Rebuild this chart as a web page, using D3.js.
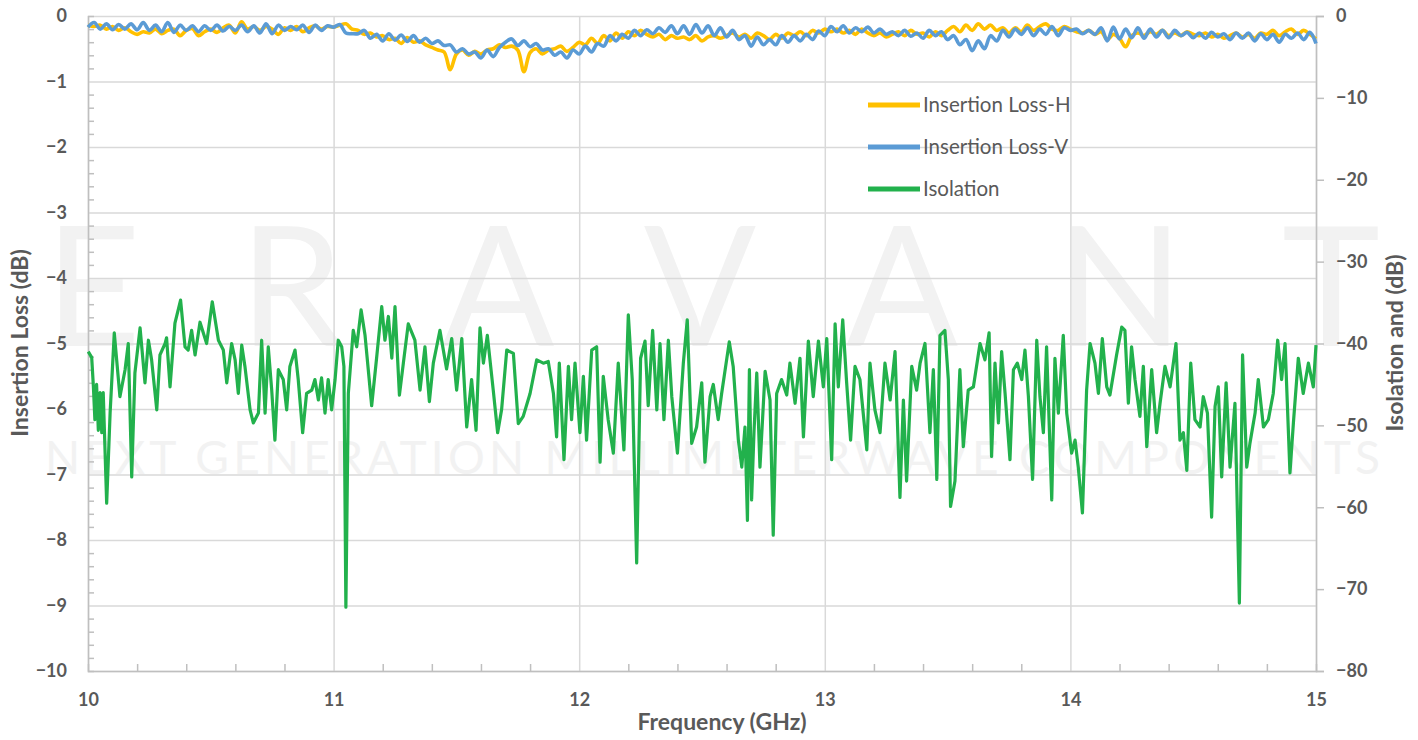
<!DOCTYPE html>
<html>
<head>
<meta charset="utf-8">
<script src="https://cdn.jsdelivr.net/npm/d3@7"></script>
<style>
  body { margin: 0; background: #fff; }
  text { font-family: Lato, "Open Sans", sans-serif; }
</style>
</head>
<body>
<svg id="chart"></svg>
<script>
// ---- data ----
var seriesNames = ["Insertion Loss-H", "Insertion Loss-V", "Isolation"];
var seriesColors = ["#ffc000", "#5b9bd5", "#22b14c"];

// insertion loss sampled every 25 MHz from 10 to 15 GHz
var ilFreq = d3.range(201).map(i => 10 + i * 0.025);

var ilH = [
  -0.14,-0.16,-0.14,-0.20, -0.16,-0.22,-0.18,-0.24, -0.28,-0.24,-0.26,-0.20, -0.27,-0.22,-0.20,-0.30,
  -0.22,-0.19,-0.30,-0.24, -0.20,-0.25,-0.18,-0.14, -0.26,-0.09,-0.20,-0.16, -0.22,-0.16,-0.20,-0.28,
  -0.18,-0.22,-0.16,-0.24, -0.18,-0.15,-0.20,-0.16, -0.17,-0.14,-0.12,-0.20, -0.22,-0.28,-0.26,-0.32,
  -0.30,-0.36,-0.34,-0.42, -0.33,-0.40,-0.38,-0.44, -0.48,-0.52,-0.55,-0.82, -0.58,-0.52,-0.60,-0.54,
  -0.58,-0.52,-0.50,-0.44, -0.48,-0.46,-0.52,-0.85, -0.56,-0.50,-0.58,-0.52, -0.50,-0.46,-0.54,-0.48,
  -0.40,-0.44,-0.34,-0.42, -0.30,-0.38,-0.26,-0.34, -0.24,-0.30,-0.22,-0.28, -0.32,-0.28,-0.36,-0.30,
  -0.34,-0.32,-0.36,-0.30, -0.38,-0.32,-0.30,-0.34, -0.30,-0.26,-0.32,-0.28, -0.34,-0.26,-0.30,-0.36,
  -0.28,-0.34,-0.26,-0.30, -0.24,-0.30,-0.22,-0.26, -0.20,-0.24,-0.20,-0.26, -0.22,-0.28,-0.20,-0.26,
  -0.30,-0.26,-0.32,-0.28, -0.24,-0.30,-0.22,-0.28, -0.26,-0.32,-0.24,-0.30, -0.22,-0.16,-0.24,-0.14,
  -0.22,-0.12,-0.20,-0.14, -0.22,-0.18,-0.26,-0.18, -0.24,-0.14,-0.22,-0.16, -0.12,-0.20,-0.22,-0.16,
  -0.20,-0.24,-0.26,-0.22, -0.28,-0.24,-0.36,-0.28, -0.34,-0.47,-0.30,-0.26, -0.30,-0.24,-0.28,-0.22,
  -0.30,-0.26,-0.30,-0.24, -0.28,-0.30,-0.26,-0.32, -0.28,-0.34,-0.30,-0.26, -0.32,-0.28,-0.34,-0.26,
  -0.28,-0.22,-0.30,-0.24, -0.20,-0.28,-0.22,-0.28, -0.35
];

var ilV = [
  -0.17,-0.10,-0.20,-0.12, -0.21,-0.13,-0.20,-0.12, -0.21,-0.10,-0.22,-0.14, -0.24,-0.10,-0.25,-0.14,
  -0.22,-0.15,-0.24,-0.15, -0.22,-0.14,-0.23,-0.16, -0.22,-0.14,-0.24,-0.15, -0.26,-0.12,-0.27,-0.14,
  -0.22,-0.16,-0.21,-0.14, -0.25,-0.14,-0.22,-0.15, -0.17,-0.13,-0.26,-0.27, -0.27,-0.22,-0.34,-0.28,
  -0.38,-0.27,-0.37,-0.29, -0.39,-0.30,-0.40,-0.34, -0.42,-0.38,-0.45,-0.44, -0.55,-0.50,-0.58,-0.55,
  -0.64,-0.52,-0.62,-0.48, -0.40,-0.35,-0.45,-0.38, -0.47,-0.42,-0.52,-0.50, -0.60,-0.55,-0.64,-0.52,
  -0.58,-0.46,-0.55,-0.42, -0.46,-0.30,-0.38,-0.28, -0.34,-0.22,-0.30,-0.21, -0.27,-0.18,-0.25,-0.15,
  -0.27,-0.15,-0.28,-0.13, -0.26,-0.15,-0.30,-0.18, -0.32,-0.22,-0.36,-0.30, -0.46,-0.32,-0.44,-0.36,
  -0.44,-0.30,-0.40,-0.30, -0.38,-0.28,-0.36,-0.23, -0.30,-0.16,-0.24,-0.15, -0.26,-0.18,-0.24,-0.17,
  -0.26,-0.20,-0.28,-0.24, -0.30,-0.22,-0.31,-0.26, -0.34,-0.22,-0.30,-0.24, -0.36,-0.30,-0.44,-0.36,
  -0.53,-0.38,-0.50,-0.30, -0.38,-0.22,-0.32,-0.20, -0.28,-0.18,-0.30,-0.20, -0.28,-0.16,-0.30,-0.18,
  -0.22,-0.20,-0.27,-0.22, -0.28,-0.18,-0.38,-0.17, -0.35,-0.20,-0.33,-0.18, -0.34,-0.20,-0.32,-0.22,
  -0.33,-0.22,-0.30,-0.25, -0.33,-0.26,-0.34,-0.25, -0.32,-0.27,-0.36,-0.26, -0.34,-0.26,-0.38,-0.27,
  -0.36,-0.28,-0.40,-0.28, -0.34,-0.26,-0.36,-0.25, -0.42
];

// isolation: peaks and troughs (GHz, dB)
var isoFreq = [
  10.001,10.015,10.022,10.028,10.035,10.042,10.049,10.056,10.062,10.076,10.090,10.107,10.130,10.151,10.164,10.178,
  10.191,10.212,10.232,10.246,10.259,10.280,10.293,10.314,10.320,10.334,10.354,10.377,10.395,10.408,10.422,10.436,
  10.456,10.483,10.506,10.531,10.551,10.565,10.585,10.599,10.612,10.626,10.639,10.660,10.673,10.694,10.707,10.721,
  10.734,10.748,10.761,10.775,10.795,10.809,10.822,10.843,10.856,10.874,10.890,10.911,10.924,10.938,10.951,10.965,
  10.978,10.992,11.006,11.019,11.033,11.042,11.050,11.060,11.080,11.094,11.112,11.128,11.155,11.175,11.196,11.209,
  11.223,11.237,11.250,11.268,11.284,11.304,11.331,11.352,11.372,11.390,11.406,11.433,11.460,11.481,11.501,11.522,
  11.542,11.562,11.580,11.596,11.610,11.626,11.650,11.668,11.684,11.705,11.732,11.752,11.772,11.800,11.827,11.854,
  11.874,11.895,11.908,11.919,11.938,11.956,11.969,11.983,12.003,12.017,12.030,12.051,12.071,12.085,12.098,12.118,
  12.139,12.159,12.182,12.200,12.216,12.234,12.250,12.268,12.281,12.299,12.316,12.329,12.345,12.363,12.377,12.400,
  12.424,12.440,12.458,12.478,12.499,12.512,12.533,12.546,12.566,12.580,12.611,12.627,12.648,12.662,12.675,12.685,
  12.693,12.702,12.712,12.723,12.736,12.757,12.777,12.790,12.804,12.824,12.845,12.858,12.879,12.899,12.913,12.933,
  12.953,12.974,12.994,13.008,13.028,13.042,13.055,13.073,13.089,13.105,13.123,13.143,13.171,13.184,13.204,13.225,
  13.245,13.266,13.286,13.306,13.320,13.333,13.354,13.374,13.388,13.408,13.428,13.442,13.456,13.469,13.489,13.503,
  13.512,13.530,13.550,13.564,13.584,13.605,13.632,13.652,13.669,13.679,13.693,13.707,13.720,13.734,13.754,13.768,
  13.784,13.802,13.815,13.829,13.846,13.863,13.876,13.890,13.903,13.924,13.937,13.951,13.971,13.985,14.005,14.019,
  14.032,14.049,14.066,14.080,14.100,14.114,14.130,14.148,14.161,14.188,14.209,14.222,14.236,14.249,14.263,14.283,
  14.297,14.311,14.331,14.351,14.365,14.385,14.406,14.430,14.446,14.460,14.474,14.490,14.507,14.528,14.541,14.558,
  14.575,14.589,14.602,14.616,14.634,14.650,14.670,14.688,14.701,14.718,14.731,14.752,14.765,14.786,14.806,14.826,
  14.844,14.860,14.874,14.894,14.908,14.928,14.948,14.969,14.989,15.000
];

var isoValue = [
  -41.0,-41.7,-45.3,-49.3,-45.0,-50.6,-46.0,-50.9,-46.0,-59.5,-48.5,-38.7,-46.5,-43.2,-40.0,-56.3,
  -43.6,-38.1,-44.8,-39.6,-42.0,-48.1,-41.4,-40.0,-39.3,-45.3,-37.5,-34.7,-40.4,-40.8,-38.4,-41.4,
  -37.4,-40.0,-34.9,-39.6,-40.8,-44.8,-40.0,-42.0,-46.1,-40.2,-42.8,-48.1,-49.7,-48.5,-39.6,-48.5,
  -40.4,-45.7,-51.8,-43.2,-44.4,-48.1,-42.8,-40.8,-44.4,-50.9,-46.1,-45.7,-44.4,-46.9,-44.2,-48.5,
  -44.4,-48.1,-44.4,-39.6,-40.4,-42.8,-72.2,-46.1,-38.4,-40.4,-35.9,-39.0,-47.6,-41.8,-35.5,-39.6,
  -36.7,-41.8,-35.5,-46.3,-42.4,-37.6,-39.6,-45.7,-40.4,-47.1,-42.4,-38.4,-43.1,-39.4,-45.7,-39.4,
  -50.2,-44.4,-50.6,-38.1,-42.4,-39.0,-45.7,-50.9,-48.1,-40.8,-41.2,-49.8,-48.9,-46.1,-42.0,-42.4,
  -42.2,-46.1,-51.4,-42.4,-54.2,-42.8,-49.3,-42.4,-50.9,-44.0,-51.8,-40.8,-40.4,-54.5,-44.0,-49.3,
  -53.4,-42.4,-53.0,-36.5,-44.4,-66.8,-41.8,-39.7,-47.6,-38.4,-48.1,-40.0,-49.3,-39.6,-46.5,-53.4,
  -42.4,-37.1,-52.2,-50.2,-44.8,-54.5,-46.5,-45.0,-49.3,-46.1,-39.8,-42.8,-51.8,-55.1,-50.2,-61.6,
  -43.2,-59.1,-50.6,-43.6,-55.1,-43.4,-46.9,-63.4,-46.1,-44.4,-46.3,-42.4,-47.3,-41.8,-51.4,-39.7,
  -46.5,-39.7,-45.3,-39.4,-54.2,-37.6,-45.3,-37.1,-44.8,-51.8,-42.8,-44.4,-53.0,-42.4,-48.1,-50.9,
  -42.4,-46.9,-41.0,-58.8,-46.9,-56.8,-42.8,-45.7,-42.4,-40.0,-50.9,-43.2,-56.6,-39.0,-38.4,-44.4,
  -59.9,-56.8,-43.2,-52.6,-45.7,-45.3,-40.0,-42.0,-38.7,-53.8,-42.4,-49.7,-41.0,-46.1,-54.2,-43.2,
  -42.4,-44.4,-40.8,-46.5,-56.6,-39.6,-46.5,-50.9,-40.4,-59.1,-41.8,-48.5,-39.0,-48.5,-53.4,-51.8,
  -55.1,-60.7,-45.7,-40.0,-42.4,-46.1,-39.4,-45.3,-46.3,-41.4,-38.0,-38.4,-47.3,-40.4,-44.4,-48.9,
  -42.8,-52.6,-43.2,-50.9,-47.3,-42.8,-45.3,-40.0,-51.8,-50.9,-55.5,-42.4,-49.3,-50.2,-46.5,-48.5,
  -61.2,-47.7,-45.3,-56.3,-44.8,-55.1,-47.3,-71.7,-41.4,-55.1,-52.2,-48.5,-44.4,-50.2,-49.3,-46.1,
  -39.6,-44.4,-40.0,-55.8,-49.7,-41.8,-46.1,-42.4,-45.3,-40.2
];

var xTicks = [10, 11, 12, 13, 14, 15];
var yLeftTicks = [0, -1, -2, -3, -4, -5, -6, -7, -8, -9, -10];
var yRightTicks = [0, -10, -20, -30, -40, -50, -60, -70, -80];

// ---- layout ----
var width = 1418, height = 740;
var plot = { left: 88, right: 1316, top: 16, bottom: 671 };
var textColor = "#595959";
var gridColor = "#d9d9d9";
var axisColor = "#bfbfbf";

var svg = d3.select("#chart")
    .attr("width", width)
    .attr("height", height);

var x = d3.scaleLinear().domain([10, 15]).range([plot.left, plot.right]);
var yL = d3.scaleLinear().domain([-10, 0]).range([plot.bottom, plot.top]);
var yR = d3.scaleLinear().domain([-80, 0]).range([plot.bottom, plot.top]);

// faint watermark behind everything
var wm = svg.append("g").attr("fill", "#f2f2f2");
wm.append("text")
    .attr("x", 45).attr("y", 346)
    .attr("textLength", 1335).attr("lengthAdjust", "spacing")
    .style("font-size", "166px").style("font-weight", 400)
    .text("ERAVANT");
wm.append("text")
    .attr("x", 45).attr("y", 474)
    .attr("textLength", 1335).attr("lengthAdjust", "spacing")
    .style("font-size", "46px").style("font-weight", 400)
    .text("NEXT GENERATION MILLIMETERWAVE COMPONENTS");

// gridlines
svg.append("g")
    .attr("transform", "translate(" + plot.left + ",0)")
    .call(d3.axisLeft(yL).tickValues(yLeftTicks).tickSize(-(plot.right - plot.left)).tickFormat(""))
    .call(g => g.select(".domain").remove())
    .call(g => g.selectAll("line").attr("stroke", gridColor).attr("stroke-width", 1.5));

svg.append("g")
    .attr("transform", "translate(0," + plot.bottom + ")")
    .call(d3.axisBottom(x).tickValues(xTicks).tickSize(-(plot.bottom - plot.top)).tickFormat(""))
    .call(g => g.select(".domain").remove())
    .call(g => g.selectAll("line").attr("stroke", gridColor).attr("stroke-width", 1.5));

// minor ticks (inside) on left and bottom
var minorY = d3.range(-50, 1).map(i => i / 5).filter(v => Math.abs(v - Math.round(v)) > 1e-6);
var minorX = d3.range(50, 76).map(i => i / 5).filter(v => Math.abs(v - Math.round(v)) > 1e-6);

svg.append("g")
    .attr("transform", "translate(" + plot.left + ",0)")
    .call(d3.axisLeft(yL).tickValues(minorY).tickSize(-6).tickFormat(""))
    .call(g => g.select(".domain").attr("stroke", axisColor).attr("stroke-width", 1.5))
    .call(g => g.selectAll("line").attr("stroke", axisColor).attr("stroke-width", 1.5));

svg.append("g")
    .attr("transform", "translate(0," + plot.bottom + ")")
    .call(d3.axisBottom(x).tickValues(minorX).tickSize(-7).tickFormat(""))
    .call(g => g.select(".domain").attr("stroke", axisColor).attr("stroke-width", 1.5))
    .call(g => g.selectAll("line").attr("stroke", axisColor).attr("stroke-width", 1.5));

// tick labels
function styleTicks(g) {
  g.selectAll("text")
      .attr("fill", textColor)
      .style("font-size", "18px")
      .style("font-weight", 700)
      .style("font-family", "Lato, sans-serif");
}

svg.append("g")
    .attr("transform", "translate(" + plot.left + ",0)")
    .call(d3.axisLeft(yL).tickValues(yLeftTicks).tickSize(0).tickPadding(21).tickFormat(d3.format("d")))
    .call(g => g.select(".domain").remove())
    .call(styleTicks);

svg.append("g")
    .attr("transform", "translate(0," + plot.bottom + ")")
    .call(d3.axisBottom(x).tickValues(xTicks).tickSize(0).tickPadding(22).tickFormat(d3.format("d")))
    .call(g => g.select(".domain").remove())
    .call(styleTicks);

svg.append("g")
    .attr("transform", "translate(" + plot.right + ",0)")
    .call(d3.axisRight(yR).tickValues(yRightTicks).tickSize(8).tickPadding(12).tickFormat(d3.format("d")))
    .call(g => g.select(".domain").attr("stroke", axisColor).attr("stroke-width", 1.5))
    .call(g => g.selectAll("line").attr("stroke", axisColor).attr("stroke-width", 1.5))
    .call(styleTicks);

// axis titles
svg.append("text")
    .attr("transform", "translate(28,343) rotate(-90)")
    .attr("text-anchor", "middle")
    .attr("fill", textColor)
    .style("font-size", "23px").style("font-weight", 700)
    .text("Insertion Loss (dB)");

svg.append("text")
    .attr("transform", "translate(1403,343) rotate(-90)")
    .attr("text-anchor", "middle")
    .attr("fill", textColor)
    .style("font-size", "23px").style("font-weight", 700)
    .text("Isolation and (dB)");

svg.append("text")
    .attr("x", 722)
    .attr("y", 730)
    .attr("text-anchor", "middle")
    .attr("fill", textColor)
    .style("font-size", "23px").style("font-weight", 700)
    .text("Frequency (GHz)");

// traces
var ilLine = d3.line()
    .x((d, i) => x(ilFreq[i]))
    .y(d => yL(d))
    .curve(d3.curveCatmullRom.alpha(0.5));

var isoLine = d3.line()
    .x((d, i) => x(isoFreq[i]))
    .y(d => yR(d));

svg.append("path")
    .datum(isoValue)
    .attr("fill", "none")
    .attr("stroke", seriesColors[2])
    .attr("stroke-width", 3.2)
    .attr("stroke-linejoin", "round")
    .attr("d", isoLine);

svg.append("path")
    .datum(ilH)
    .attr("fill", "none")
    .attr("stroke", seriesColors[0])
    .attr("stroke-width", 3.6)
    .attr("stroke-linejoin", "round")
    .attr("d", ilLine);

svg.append("path")
    .datum(ilV)
    .attr("fill", "none")
    .attr("stroke", seriesColors[1])
    .attr("stroke-width", 3.6)
    .attr("stroke-linejoin", "round")
    .attr("d", ilLine);

// legend
var legend = svg.append("g")
    .selectAll("g")
    .data(seriesNames)
    .enter()
    .append("g")
      .attr("transform", (d, i) => "translate(868," + (105 + i * 42) + ")");

legend.append("line")
    .attr("x1", 0).attr("x2", 52)
    .attr("stroke", (d, i) => seriesColors[i])
    .attr("stroke-width", 5);

legend.append("text")
    .attr("x", 55)
    .attr("dy", "0.35em")
    .attr("fill", textColor)
    .style("font-size", "20.5px")
    .text(d => d);
</script>
</body>
</html>
